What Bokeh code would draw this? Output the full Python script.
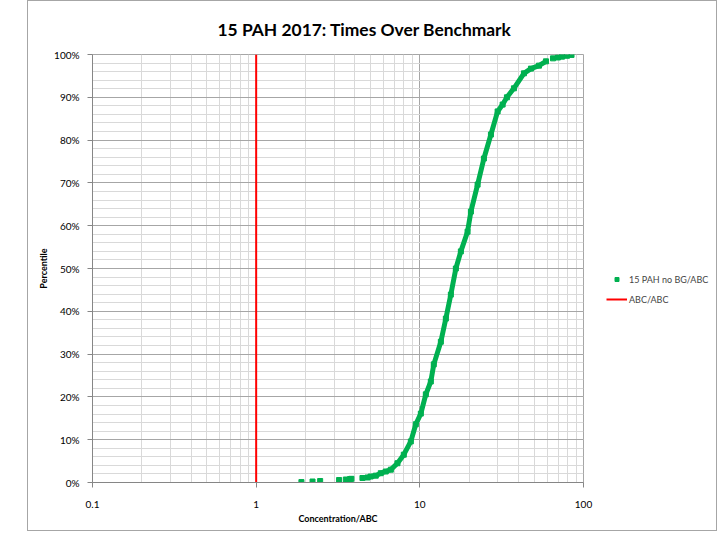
from bokeh.plotting import figure
from bokeh.models import (FixedTicker, Legend, LegendItem, Range1d, Spacer,
                          ColumnDataSource, NumeralTickFormatter)
from bokeh.layouts import row
from bokeh.embed import file_html
from bokeh.resources import INLINE

# ---- data ----
conc = [1.89, 2.21, 2.46, 3.21, 3.53, 3.75, 3.82, 4.46, 4.79, 5.01, 5.38, 5.77,
        6.19, 6.65, 7.30, 7.98, 8.81, 9.45, 10.14, 10.88, 11.67, 12.17, 13.44,
        14.42, 15.47, 16.60, 17.81, 19.57, 20.51, 22.54, 24.63, 27.19, 29.87,
        32.05, 34.05, 37.58, 43.26, 47.75, 53.45, 58.97, 65.1, 69.8, 73.9,
        79.3, 84.5]
pct = [0.001, 0.0023, 0.0035, 0.0058, 0.007, 0.0082, 0.0086, 0.0105, 0.0117,
       0.014, 0.016, 0.0217, 0.0257, 0.030, 0.045, 0.065, 0.096, 0.136, 0.161,
       0.206, 0.236, 0.276, 0.329, 0.383, 0.439, 0.500, 0.540, 0.586, 0.633,
       0.696, 0.757, 0.813, 0.867, 0.883, 0.900, 0.921, 0.956, 0.967, 0.974,
       0.984, 0.991, 0.993, 0.995, 0.997, 0.999]
bench_x = [1, 1]
bench_y = [0, 1]

major_x = [0.1, 1, 10, 100]
x_labels = ["0.1", "1", "10", "100"]
major_y = [i / 10 for i in range(11)]

series_name = "15 PAH no BG/ABC"
bench_name = "ABC/ABC"
title_text = "15 PAH 2017: Times Over Benchmark"

FONT = "Lato"
GREEN = "#00b050"
RED = "#ff0000"

p = figure(frame_width=491, frame_height=428, x_axis_type="log",
           x_range=Range1d(0.1, 100), y_range=Range1d(0, 1),
           output_backend="svg", toolbar_location=None,
           min_border_left=64, min_border_right=12,
           min_border_top=51, min_border_bottom=48)

p.title.text = title_text
p.title.text_font = FONT
p.title.text_font_size = "17.4px"
p.title.text_font_style = "bold"
p.title.text_color = "#000000"
p.title.align = "left"
p.title.offset = 125
p.title.standoff = 30

minor_x = [m * d for d in [0.1, 1, 10] for m in range(2, 10)]
xt = FixedTicker(ticks=major_x, minor_ticks=minor_x)
yt = FixedTicker(ticks=major_y, minor_ticks=[i / 50 for i in range(51)])
p.xaxis.ticker = xt
p.xgrid.ticker = xt
p.yaxis.ticker = yt
p.ygrid.ticker = yt

p.xaxis.major_label_overrides = {v: s for v, s in zip(major_x, x_labels)}
p.yaxis.formatter = NumeralTickFormatter(format="0%")

for g in (p.xgrid, p.ygrid):
    g.grid_line_color = "#a6a6a6"
    g.minor_grid_line_color = "#d9d9d9"

p.outline_line_color = "#a6a6a6"

for ax in (p.xaxis, p.yaxis):
    ax.axis_line_color = "#868686"
    ax.major_tick_line_color = "#868686"
    ax.minor_tick_line_color = None
    ax.major_tick_in = 0
    ax.major_tick_out = 5
    ax.major_label_text_font = FONT
    ax.major_label_text_font_size = "10px"
    ax.major_label_text_color = "#000000"
    ax.axis_label_text_font = FONT
    ax.axis_label_text_font_size = "9px"
    ax.axis_label_text_font_style = "bold"
    ax.axis_label_text_color = "#000000"

p.xaxis.axis_label = "Concentration/ABC"
p.xaxis.major_label_standoff = 13
p.xaxis.axis_label_standoff = 2
p.yaxis.axis_label = "Percentile"
p.yaxis.major_label_standoff = 8
p.yaxis.axis_label_standoff = 2

# the densely sampled stretch of the series, where the markers merge into a band
dense_x = [c for c in conc if 4.7 < c < 60]
dense_y = [v for c, v in zip(conc, pct) if 4.7 < c < 60]
p.line(dense_x, dense_y, line_color=GREEN, line_width=5,
       line_join="round", line_cap="round")
src = ColumnDataSource(data=dict(x=conc, y=pct))
p.scatter("x", "y", source=src, marker="square", size=5,
          fill_color=GREEN, line_color=GREEN)
p.line(bench_x, bench_y, line_color=RED, line_width=2)

# ---- legend panel (same styles as the series; its data lies off its view) ----
lg = figure(width=121, height=527, x_range=Range1d(-3, -2), y_range=Range1d(-3, -2),
            output_backend="svg", toolbar_location=None,
            x_axis_location=None, y_axis_location=None, min_border=0)
lg.grid.visible = False
lg.outline_line_color = None
lg_pts = lg.scatter(conc, pct, marker="square", size=5,
                    fill_color=GREEN, line_color=GREEN)
lg_red = lg.line(bench_x, bench_y, line_color=RED, line_width=2)
legend = Legend(items=[LegendItem(label=series_name, renderers=[lg_pts]),
                       LegendItem(label=bench_name, renderers=[lg_red])],
                location=(11, 171), padding=0, margin=0, spacing=0,
                border_line_color=None, background_fill_alpha=0,
                label_text_font=FONT, label_text_font_size="9px",
                label_standoff=2, glyph_width=21, glyph_height=10,
                label_height=20)
lg.add_layout(legend)

chart = row(p, lg)
chart.styles = {"border": "1px solid #a6a6a6"}
layout = row(Spacer(width=27, height=527), chart)
open("out.html", "w").write(file_html(layout, INLINE))
